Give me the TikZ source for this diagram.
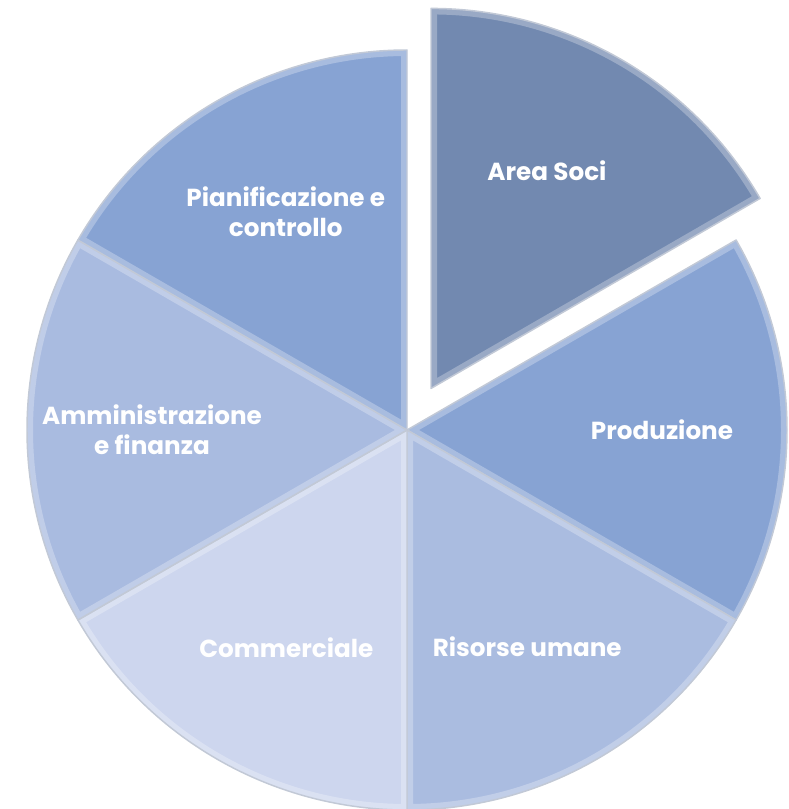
\documentclass[tikz,border=0pt]{standalone}
\usepackage{fontspec}
\setmainfont{Poppins}

\definecolor{soci}{HTML}{7289B0}
\definecolor{prod}{HTML}{87A3D3}
\definecolor{ris}{HTML}{AABCE0}
\definecolor{comm}{HTML}{CDD6EE}
\definecolor{amm}{HTML}{A9BBE0}
\definecolor{pian}{HTML}{87A3D3}
\definecolor{rim}{HTML}{C2C9D6}

\begin{document}
\begin{tikzpicture}[
    x=0.75pt, y=0.75pt,
    slice/.style={
        draw=rim,
        line width=1.1,
        line join=round
    },
    bevel/.style={draw=white, draw opacity=0.28, line width=9},
    label/.style={
        text=white,
        font=\bfseries\fontsize{18.5}{22.5}\selectfont,
        align=center
    }
]
\useasboundingbox (0,0) rectangle (788,-809);

% Centres
\coordinate (c) at (407,-430);
\path (c) ++(60:48) coordinate (cs);

% Slices
\foreach \o/\a/\b/\col in {cs/30/90/soci, c/-30/30/prod, c/-90/-30/ris,
                           c/-150/-90/comm, c/150/210/amm, c/90/150/pian} {
    \fill[\col] (\o) -- ++(\a:380) arc[start angle=\a, end angle=\b, radius=380] -- cycle;
    \begin{scope}
        \clip (\o) -- ++(\a:380) arc[start angle=\a, end angle=\b, radius=380] -- cycle;
        \draw[bevel] (\o) -- ++(\a:380) arc[start angle=\a, end angle=\b, radius=380] -- cycle;
    \end{scope}
    \draw[slice] (\o) -- ++(\a:380) arc[start angle=\a, end angle=\b, radius=380] -- cycle;
}

% Labels
\node[label] (soci) at ([shift={(62:247)}]cs) {Area Soci};
\node[label] (prod) at ([shift={(0:255)}]c) {Produzione};
\node[label] (ris) at ([shift={(-61:248)}]c) {Risorse umane};
\node[label] (comm) at ([shift={(-119:249)}]c) {Commerciale};
\node[label] (amm) at ([shift={(180:255)}]c) {Amministrazione\\e finanza};
\node[label] (pian) at ([shift={(119:250)}]c) {Pianificazione e\\controllo};

\end{tikzpicture}
\end{document}
